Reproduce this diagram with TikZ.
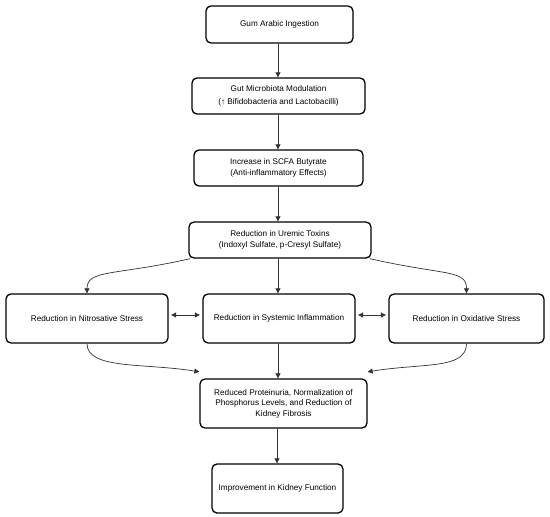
\documentclass[tikz,border=0pt]{standalone}
\usepackage{fontspec}
\setmainfont{Liberation Sans}
\usetikzlibrary{arrows.meta}
\begin{document}
\begin{tikzpicture}[x=1pt,y=-1pt,
  box/.style={draw=black,line width=1.3pt,rounded corners=5pt,align=center,
    inner sep=0pt,font=\fontsize{8.2}{10.5}\selectfont},
  conn/.style={draw=black!80,line width=0.7pt,-{Triangle[length=5pt,width=5pt]}},
  both/.style={draw=black!80,line width=0.7pt,{Triangle[length=5pt,width=5pt]}-{Triangle[length=5pt,width=5pt]},shorten <=2.5pt,shorten >=2.5pt}]
\useasboundingbox (0,0) rectangle (550,517);
\node[box,minimum width=147pt,minimum height=37pt] (b1) at (279.5,24.5) {Gum Arabic Ingestion};
\node[box,minimum width=173pt,minimum height=36pt,font=\fontsize{8.2}{12.5}\selectfont] (b2) at (278.5,96) {Gut Microbiota Modulation\\(↑ Bifidobacteria and Lactobacilli)};
\node[box,minimum width=169pt,minimum height=36pt] (b3) at (278.5,168) {Increase in SCFA Butyrate\\(Anti-inflammatory Effects)};
\node[box,minimum width=182pt,minimum height=36pt] (b4) at (280,240) {Reduction in Uremic Toxins\\(Indoxyl Sulfate, p-Cresyl Sulfate)};
\node[box,minimum width=162pt,minimum height=49pt] (b5) at (87,318.5) {Reduction in Nitrosative Stress};
\node[box,minimum width=152pt,minimum height=49pt] (b6) at (279,318.5) {Reduction in Systemic Inflammation};
\node[box,minimum width=155pt,minimum height=49pt] (b7) at (466.5,318.5) {Reduction in Oxidative Stress};
\node[box,minimum width=167pt,minimum height=49pt] (b8) at (283.5,403.5) {Reduced Proteinuria, Normalization of\\Phosphorus Levels, and Reduction of\\Kidney Fibrosis};
\node[box,minimum width=131pt,minimum height=49pt] (b9) at (277.5,488.5) {Improvement in Kidney Function};
\coordinate (b4l) at ([xshift=2pt]b4.south west);
\coordinate (b4r) at ([xshift=-2pt]b4.south east);
\coordinate (b8l) at ([yshift=6.5pt]b8.north west);
\coordinate (b8r) at ([yshift=6.5pt]b8.north east);
\draw[conn] (b1.south -| 278,0) -- (b2.north -| 278,0);
\draw[conn] (b2.south -| 278,0) -- (b3.north -| 278,0);
\draw[conn] (b3.south -| 278,0) -- (b4.north -| 278,0);
\draw[conn] (b4.south -| 278,0) -- (b6.north -| 278,0);
\draw[conn] (b6.south -| 278,0) -- (b8.north -| 278,0);
\draw[conn] (b8.south -| 277,0) -- (b9.north -| 277,0);
\draw[conn] (b4l) .. controls +(-75,17) and +(0,-24) .. (b5.north);
\draw[conn] (b4r) .. controls +(75,17) and +(0,-24) .. (b7.north);
\draw[conn] (b5.south) .. controls +(0,26) and +(-55,-9) .. (b8l);
\draw[conn] (b7.south) .. controls +(0,26) and +(55,-9) .. (b8r);
\draw[both] (b5.east |- 0,315) -- (b6.west |- 0,315);
\draw[both] (b6.east |- 0,315) -- (b7.west |- 0,315);
\end{tikzpicture}
\end{document}
